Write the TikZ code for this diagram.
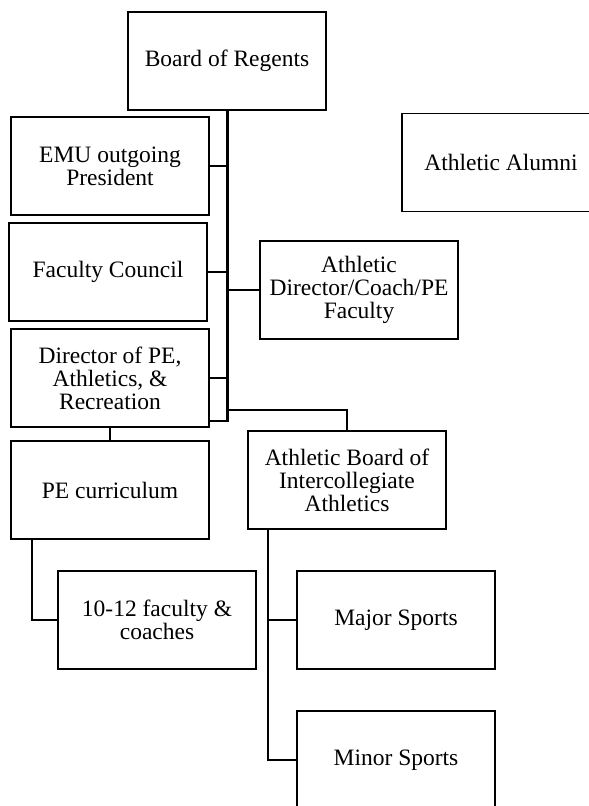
\documentclass[tikz,border=0pt]{standalone}
\usepackage{fontspec}
\setmainfont{Liberation Serif}
\begin{document}
\begin{tikzpicture}[x=1pt,y=-1pt,
  box/.style={draw=black,line width=1.5pt,minimum width=198pt,minimum height=98pt,inner sep=0pt,align=center,font=\fontsize{23.5}{23}\selectfont},
  conn/.style={draw=black,line width=1.8pt},
  trunkline/.style={draw=black,line width=2.2pt}]
\useasboundingbox (0,0) rectangle (589,806);
\node[box] (br) at (227,61) {Board of Regents};
\node[box] (emu) at (110,166) {EMU outgoing\\President};
\node[box] (alum) at (501,162.5) {Athletic Alumni};
\node[box] (fc) at (108,272) {Faculty Council};
\node[box] (ad) at (359,290) {Athletic\\Director/Coach/PE\\Faculty};
\node[box] (dpe) at (110,378) {Director of PE,\\Athletics, \&\\Recreation};
\node[box] (pec) at (110,490) {PE curriculum};
\node[box] (abia) at (347,480) {Athletic Board of\\Intercollegiate\\Athletics};
\node[box] (fac) at (157,620) {10-12 faculty \&\\coaches};
\node[box] (major) at (396,620) {Major Sports};
\node[box] (minor) at (396,760) {Minor Sports};
% trunk
\coordinate (tbot) at (227.5,421);
\draw[trunkline] (br.south -| tbot) -- (tbot) -- (tbot -| dpe.east);
\draw[conn] (emu.east) -- (emu.east -| tbot);
\draw[conn] (fc.east) -- (fc.east -| tbot);
\draw[conn] (ad.west -| tbot) -- (ad.west);
\draw[conn] (dpe.east) -- (dpe.east -| tbot);
\coordinate (abj) at (227.5,410);
\draw[conn] (abj) -- (abj -| abia.north) -- (abia.north);
\draw[conn] (dpe.south) -- (pec.north);
\coordinate (pcx) at (32,539);
\draw[conn] (pcx) -- (pcx |- fac.west) -- (fac.west);
\coordinate (abx) at (268,529);
\draw[conn] (abx) -- (abx |- minor.west) -- (minor.west);
\draw[conn] (abx |- major.west) -- (major.west);
\end{tikzpicture}
\end{document}
